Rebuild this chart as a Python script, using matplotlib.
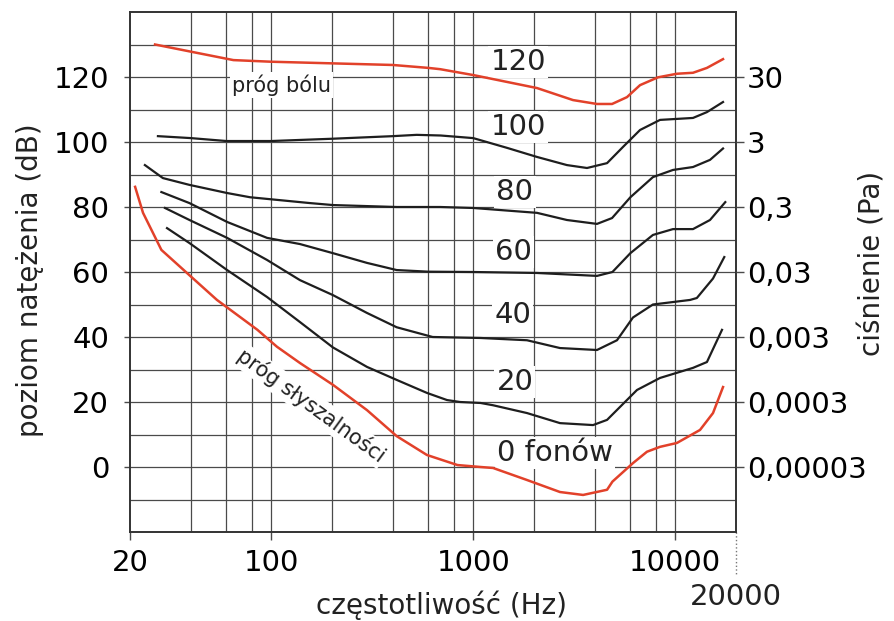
import matplotlib
matplotlib.use("Agg")
import matplotlib.pyplot as plt
import matplotlib.transforms as mtransforms

plt.rcParams['font.family'] = ['DejaVu Sans']

# ---- data (frequency in Hz, level in dB) ----
pain_f = [26.6, 40, 65, 100, 200, 400, 600, 687, 1000, 2070, 3120, 4100, 4870, 5770, 6700, 8220, 10200, 12250, 14360, 17250]
pain_db = [130, 127.8, 125.2, 124.7, 124.2, 123.7, 122.8, 122.4, 120.6, 116.6, 112.9, 111.7, 111.7, 113.8, 117.5, 119.9, 121, 121.3, 122.8, 125.5]

p100_f = [27.5, 40, 60, 100, 200, 400, 525, 690, 1000, 1470, 2070, 2910, 3660, 4600, 5520, 6700, 8410, 12250, 14360, 17250]
p100_db = [101.8, 101.2, 100.3, 100.3, 101, 101.8, 102.2, 102, 101.2, 98.2, 95.4, 92.9, 92, 93.5, 98.5, 103.7, 106.8, 107.4, 109.2, 112.3]

p80_f = [23.7, 29.1, 39.4, 60.5, 78.6, 155.9, 202, 418, 687, 1000, 2070, 2910, 4100, 4870, 6000, 7760, 9750, 12250, 14870, 17250]
p80_db = [92.9, 88.9, 86.8, 84.3, 83, 81.2, 80.6, 80, 80, 79.7, 78.2, 76, 74.8, 76.6, 83, 89.2, 91.4, 92.3, 94.5, 98]

p60_f = [28.6, 39.4, 60.5, 95.4, 138.8, 202, 298, 418, 600, 1000, 2070, 4100, 4890, 6000, 7760, 9750, 12250, 14870, 17700]
p60_db = [84.6, 81.2, 75.4, 70.5, 68.6, 65.8, 62.8, 60.6, 60.1, 60, 59.7, 58.8, 60, 65.8, 71.4, 73.2, 73.2, 76, 81.5]

p40_f = [29.8, 39.4, 60.5, 95.4, 138.8, 202, 298, 418, 630, 1088, 1846, 2690, 4100, 5150, 6180, 7760, 11840, 12800, 15390, 17500]
p40_db = [79.7, 76, 70.5, 63.7, 57.5, 52.9, 47.4, 43, 40, 39.7, 39, 36.6, 36, 39, 46, 50, 51.4, 52, 58, 64.6]

p20_f = [30.5, 39.4, 60.5, 95.4, 138.8, 202, 298, 418, 590, 742, 861, 1088, 1254, 1846, 2690, 3920, 4600, 6470, 8410, 12250, 14360, 17050]
p20_db = [73.5, 68.9, 60.6, 52.3, 44.6, 36.8, 30.8, 26.8, 22.8, 20.6, 20, 19.7, 19, 16.6, 13.5, 12.9, 14.5, 23.7, 27.4, 30.5, 32.3, 42.2]

hear_f = [21.2, 23.2, 26, 28.6, 39.4, 53.9, 85.5, 106.8, 138.8, 202, 298, 418, 590, 836, 1088, 1254, 1846, 2690, 3500, 4600, 4890, 6180, 7250, 8410, 10200, 13270, 15390, 17250]
hear_db = [86.2, 78.2, 72, 66.8, 59, 51.4, 42.2, 37, 32, 25.3, 17.5, 9.5, 3.7, 0.6, 0, -0.3, -4, -7.7, -8.6, -7, -4.5, 1.2, 4.7, 6.2, 7.4, 11.4, 16.6, 24.6]

y_ticks = [0, 20, 40, 60, 80, 100, 120]
pressure_labels = ["0,00003", "0,0003", "0,003", "0,03", "0,3", "3", "30"]
x_ticks = [20, 100, 1000, 10000]
x_tick_labels = ["20", "100", "1000", "10000"]
x_grid = [40, 60, 80, 100, 200, 400, 600, 800, 1000, 2000, 4000, 6000, 8000, 10000]
y_grid = [-10, 0, 10, 20, 30, 40, 50, 60, 70, 80, 90, 100, 110, 120, 130]

RED = '#e2412a'
BLACK = '#1e1e1e'
GRID = '#4a4a4a'

fig = plt.figure(figsize=(8.95, 6.21), dpi=100)
fig.patch.set_facecolor('white')
ax = fig.add_axes([130 / 895, (621 - 532) / 621, 606 / 895, 520 / 621])
ax.set_xscale('log')
ax.set_xlim(20, 20000)
ax.set_ylim(-20, 140)

for gx in x_grid:
    ax.axvline(gx, color=GRID, lw=0.9, zorder=1)
for gy in y_grid:
    ax.axhline(gy, color=GRID, lw=0.9, zorder=1)

ax.plot(pain_f, pain_db, color=RED, lw=1.8, zorder=3)
ax.plot(hear_f, hear_db, color=RED, lw=1.8, zorder=3)
for f, d in [(p100_f, p100_db), (p80_f, p80_db), (p60_f, p60_db), (p40_f, p40_db), (p20_f, p20_db)]:
    ax.plot(f, d, color=BLACK, lw=1.6, zorder=3)

ax.set_xticks(x_ticks)
ax.set_xticklabels(x_tick_labels)
ax.xaxis.set_minor_locator(matplotlib.ticker.NullLocator())
ax.set_yticks(y_ticks)
ax.set_yticklabels([str(v) for v in y_ticks])
ax.tick_params(axis='x', direction='out', length=6, width=1, color=GRID, labelsize=21, pad=6)
ax.tick_params(axis='y', direction='out', length=4, width=1, color=GRID, labelsize=21, pad=11)
for s in ax.spines.values():
    s.set_color('#333333')
    s.set_linewidth(1.4)

ax2 = ax.twinx()
ax2.set_ylim(-20, 140)
ax2.set_yticks(y_ticks)
ax2.set_yticklabels(pressure_labels)
ax2.tick_params(axis='y', direction='out', length=6, width=1, color=GRID, labelsize=21, pad=2)
for s in ax2.spines.values():
    s.set_visible(False)

# 20000 label below, with dotted connector
trans = mtransforms.blended_transform_factory(ax.transData, ax.transAxes)
ax.plot([20000, 20000], [0, -0.085], transform=trans, color='#777777', lw=1, ls=':', clip_on=False)
ax.text(20000, -0.125, "20000", transform=trans, ha='center', va='center', fontsize=21, color='#222222')

# curve labels (white boxes interrupt the grid, drawn beneath the curves)
bb = dict(facecolor='white', edgecolor='none', pad=1.5)
lab_kw = dict(fontsize=21, ha='center', va='center', color='#222222', zorder=2, bbox=bb)
ax.text(1668, 124.6, "120", **lab_kw)
ax.text(1668, 104.6, "100", **lab_kw)
ax.text(1610, 84.6, "80", **lab_kw)
ax.text(1590, 66.2, "60", **lab_kw)
ax.text(1570, 46.8, "40", **lab_kw)
ax.text(1610, 26.2, "20", **lab_kw)
ax.text(2540, 4.3, "0 fonów", **lab_kw)
ax.text(113, 117.5, "próg bólu", fontsize=15, ha='center', va='center', color='#222222', zorder=2, bbox=bb)
ax.text(157, 19, "próg słyszalności", fontsize=15, ha='center', va='center', color='#222222',
        rotation=-36, rotation_mode='anchor', zorder=2, bbox=bb)

fig.text(30 / 895, 1 - 280 / 621, "poziom natężenia (dB)", rotation=90, ha='center', va='center', fontsize=20, color='#222222')
fig.text(442 / 895, 1 - 605 / 621, "częstotliwość (Hz)", ha='center', va='center', fontsize=20, color='#222222')
fig.text(873 / 895, 1 - 263 / 621, "ciśnienie (Pa)", rotation=90, ha='center', va='center', fontsize=20, color='#222222')

fig.savefig("out.png", dpi=100, facecolor='white')
